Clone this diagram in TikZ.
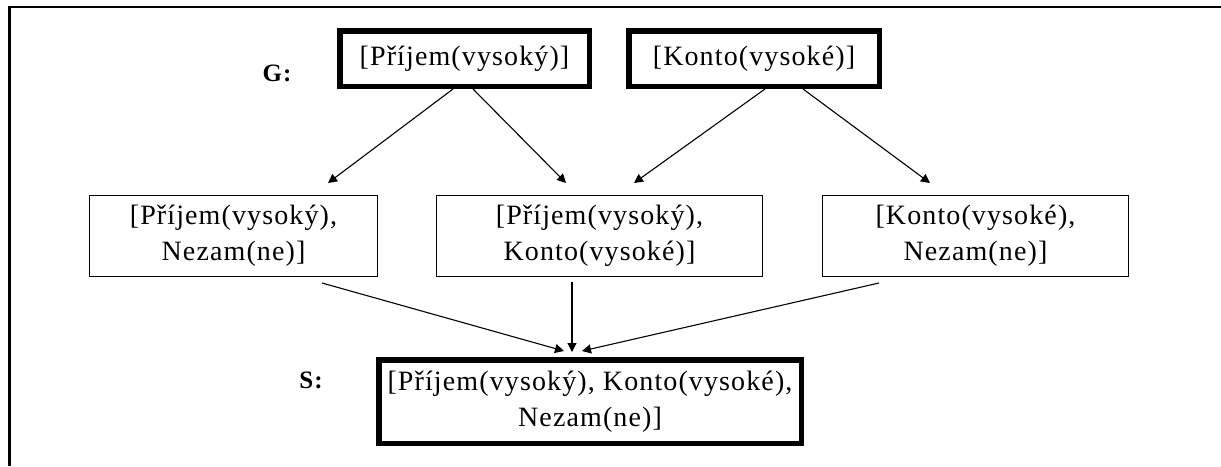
\documentclass[tikz,border=0pt]{standalone}
\usepackage{fontspec}
\setmainfont{Liberation Serif}[LetterSpace=4]
\usetikzlibrary{arrows.meta}
\begin{document}
\begin{tikzpicture}[x=1pt,y=-1pt,
  every node/.style={font=\fontsize{28}{36}\selectfont, align=center, inner sep=0pt},
  thickbox/.style={draw, line width=5.5pt},
  thinbox/.style={draw, line width=1.2pt, minimum height=80.8pt},
  conn/.style={line width=1.1pt, -{Triangle[length=9pt,width=9pt]}},
  lbl/.style={font=\fontsize{25}{28}\selectfont\bfseries}]
\useasboundingbox (0,0) rectangle (1221,466);
% frame along the top and left edges
\draw[line width=2.2pt] (9.5,466) -- (9.5,7) -- (1221,7);

% generalisation level G
\node[lbl] (gl) at (277,73) {G:};
\node[thickbox, minimum width=249.5pt, minimum height=55.5pt] (g1) at (464.5,58.5) {[Příjem(vysoký)]};
\node[thickbox, minimum width=250.5pt, minimum height=55.5pt] (g2) at (754,58.5) {[Konto(vysoké)]};

% intermediate hypotheses
\node[thinbox, minimum width=287.8pt] (n3) at (233.5,236) {[Příjem(vysoký),\\Nezam(ne)]};
\node[thinbox, minimum width=325.8pt] (n4) at (599.5,236) {[Příjem(vysoký),\\Konto(vysoké)]};
\node[thinbox, minimum width=305.8pt] (n5) at (975.5,236) {[Konto(vysoké),\\Nezam(ne)]};

% specialisation level S
\node[lbl] (sl) at (311,380) {S:};
\node[thickbox, minimum width=422.5pt, minimum height=83.5pt] (s) at (590,401.5) {[Příjem(vysoký), Konto(vysoké),\\Nezam(ne)]};

% connectors
\draw[conn] ([xshift=-11.5pt]g1.south) -- ([xshift=94.5pt,yshift=12pt]n3.north);
\draw[conn] ([xshift=8.5pt]g1.south) -- ([xshift=-33.5pt,yshift=12pt]n4.north);
\draw[conn] ([xshift=11pt]g2.south) -- ([xshift=34.5pt,yshift=12pt]n4.north);
\draw[conn] ([xshift=49pt]g2.south) -- ([xshift=-45.5pt,yshift=12pt]n5.north);
\draw[conn] ([xshift=88.5pt,yshift=-6pt]n3.south) -- ([xshift=-26pt,yshift=6pt]s.north);
\draw[conn] ([xshift=-27.5pt,yshift=-5pt]n4.south) -- ([xshift=-18pt,yshift=5pt]s.north);
\draw[conn] ([xshift=-96.5pt,yshift=-6pt]n5.south) -- ([xshift=-8pt,yshift=6pt]s.north);
\end{tikzpicture}
\end{document}
